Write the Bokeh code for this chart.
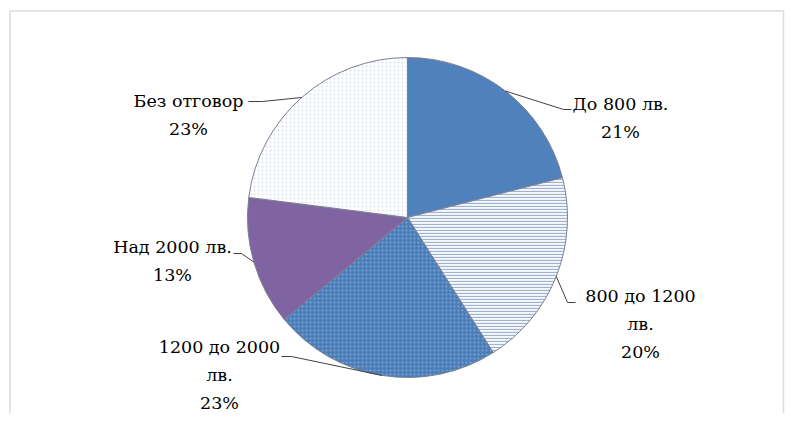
import math
from bokeh.plotting import figure
from bokeh.models import ColumnDataSource, Range1d, BoxAnnotation
from bokeh.core.properties import value
from bokeh.embed import file_html
from bokeh.resources import INLINE

# ---- data ----
categories = ["До 800 лв.", "800 до 1200 лв.", "1200 до 2000 лв.", "Над 2000 лв.", "Без отговор"]
percents = [21, 20, 23, 13, 23]

# ---- styles / layout ----
fill_colors = ["#4F81BD", "#F4F7FB", "#4A7EBB", "#8064A2", "#FFFFFF"]
hatch_patterns = [" ", "horizontal_line", "dot", " ", "dot"]
hatch_colors = ["#4F81BD", "#9FB3D1", "#FFFFFF", "#8064A2", "#B8C8DE"]
hatch_alphas = [0.0, 1.0, 0.3, 0.0, 0.55]
hatch_scales = [4, 3, 4, 4, 4]
wrap_unit = [False, True, True, False, False]

W, H = 787, 413
cx, cy, R = 407, H - 217, 160

# label block centers (picture coords) and leader elbows
label_pos = [(620, 117), (640, 323), (219, 374), (172, 260), (188, 114)]
leader_end = [[(571, 109), (563, 109)],
              [(575, 302), (567, 302)],
              [(281, 356), (291, 356)],
              [(233, 253), (241, 253)],
              [(248, 101), (262, 101)]]

total = float(sum(percents))
starts, ends, mids = [], [], []
acc = 0.0
for v in percents:
    a0 = math.pi / 2 - 2 * math.pi * acc / total
    acc += v
    a1 = math.pi / 2 - 2 * math.pi * acc / total
    starts.append(a0)
    ends.append(a1)
    mids.append((a0 + a1) / 2)

src = ColumnDataSource(dict(
    x=[cx] * len(percents), y=[cy] * len(percents),
    start=starts, end=ends, fill=fill_colors,
    hp=hatch_patterns, hc=hatch_colors, ha=hatch_alphas, hs=hatch_scales,
))

p = figure(width=W, height=H, output_backend="svg", toolbar_location=None,
           x_range=Range1d(0, W), y_range=Range1d(0, H),
           min_border=0, outline_line_color=None)
p.axis.visible = False
p.grid.visible = False

p.add_layout(BoxAnnotation(left=9.5, right=783, top=H - 10.5, bottom=-200,
                           fill_alpha=0, line_color="#8C8C8C", line_width=1.5))

p.wedge(x="x", y="y", radius=R, start_angle="start", end_angle="end",
        direction="clock", source=src, fill_color="fill",
        hatch_pattern="hp", hatch_color="hc", hatch_alpha="ha", hatch_scale="hs",
        hatch_weight=1.2, line_color="#7F7F8F", line_width=1)

# leader lines
xs, ys = [], []
for i, m in enumerate(mids):
    ex, ey = cx + R * math.cos(m), cy + R * math.sin(m)
    pts = [(ex, ey)] + [(px, H - py) for (px, py) in reversed(leader_end[i])]
    xs.append([q[0] for q in pts])
    ys.append([q[1] for q in pts])
p.multi_line(xs, ys, line_color="#404040", line_width=1)

texts = []
for c, v, w in zip(categories, percents, wrap_unit):
    name = c.replace(" лв.", "\nлв.") if w else c
    texts.append(f"{name}\n{v}%")
p.text(x=[q[0] for q in label_pos], y=[H - q[1] for q in label_pos], text=texts,
       text_font=value("DejaVu Serif"), text_font_size="17.5px", text_color="#000000",
       text_align="center", text_baseline="middle", text_line_height=1.4)

open("out.html", "w").write(file_html(p, INLINE))
